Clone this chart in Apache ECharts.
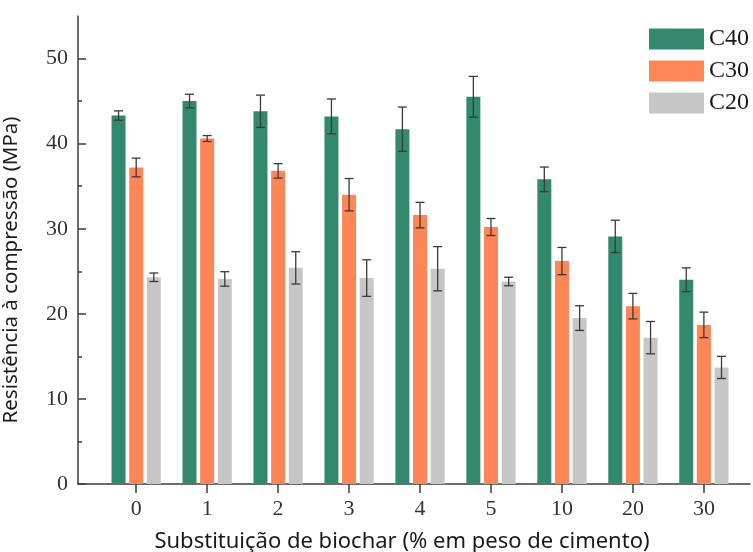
<!DOCTYPE html>
<html>
<head>
<meta charset="utf-8">
<script src="https://cdn.jsdelivr.net/npm/echarts@6/dist/echarts.min.js"></script>
<style>html,body{margin:0;padding:0;background:#fff}#c{width:753px;height:552px}</style>
</head>
<body>
<div id="c"></div>
<script>
const categories = ['0', '1', '2', '3', '4', '5', '10', '20', '30'];
const seriesNames = ['C40', 'C30', 'C20'];
const c40 = [43.3, 45.0, 43.8, 43.2, 41.7, 45.5, 35.8, 29.1, 24.0];
const c40Err = [0.55, 0.8, 1.9, 2.05, 2.6, 2.4, 1.45, 1.9, 1.4];
const c30 = [37.2, 40.6, 36.8, 34.0, 31.6, 30.2, 26.2, 20.9, 18.7];
const c30Err = [1.1, 0.35, 0.85, 1.9, 1.5, 1.0, 1.6, 1.5, 1.5];
const c20 = [24.3, 24.1, 25.4, 24.2, 25.3, 23.8, 19.5, 17.2, 13.7];
const c20Err = [0.5, 0.85, 1.9, 2.15, 2.6, 0.5, 1.45, 1.9, 1.3];
const yTickValues = [0, 10, 20, 30, 40, 50];
const yMinorTickValues = [5, 15, 25, 35, 45];

const colors = ['#33896d', '#fe8556', '#c6c6c6'];
const values = [c40, c30, c20];
const errors = [c40Err, c30Err, c20Err];
const BAR_W = 14, GAP = 0.26;
const step = BAR_W * (1 + GAP);
const serif = '"Liberation Serif", "DejaVu Serif", serif';
const sans = '"Noto Sans", "Open Sans", sans-serif';
const idx = categories.map((_, i) => i);

const series = [];
values.forEach((vals, s) => {
  series.push({
    name: seriesNames[s], type: 'bar', barWidth: BAR_W, barGap: (GAP * 100) + '%',
    itemStyle: { color: colors[s] },
    data: vals.map((v, i) => [i, v]),
    z: 2
  });
});
values.forEach((vals, s) => {
  series.push({
    type: 'custom', z: 5, silent: true,
    data: vals.map((v, i) => [i, v, errors[s][i]]),
    renderItem: function (params, api) {
      const i = api.value(0), v = api.value(1), e = api.value(2);
      const hi = api.coord([i, v + e]);
      const lo = api.coord([i, v - e]);
      const x = hi[0] + (s - 1) * step;
      const cap = 4.5;
      const st = { stroke: '#3a3a3a', lineWidth: 1.3 };
      return {
        type: 'group', children: [
          { type: 'line', shape: { x1: x, y1: hi[1], x2: x, y2: lo[1] }, style: st },
          { type: 'line', shape: { x1: x - cap, y1: hi[1], x2: x + cap, y2: hi[1] }, style: st },
          { type: 'line', shape: { x1: x - cap, y1: lo[1], x2: x + cap, y2: lo[1] }, style: st }
        ]
      };
    }
  });
});

const chart = echarts.init(document.getElementById('c'));
chart.setOption({
  animation: false,
  backgroundColor: '#ffffff',
  grid: { left: 78, right: 3, top: 16, bottom: 68, containLabel: false, outerBoundsMode: 'none' },
  legend: {
    data: seriesNames, orient: 'vertical', left: 644, top: 22,
    icon: 'rect', itemWidth: 55, itemHeight: 21, itemGap: 8,
    textStyle: { fontFamily: serif, fontSize: 24, color: '#1a1a1a' }
  },
  xAxis: {
    type: 'value', min: -0.82, max: 8.65,
    name: 'Substituição de biochar (% em peso de cimento)',
    nameLocation: 'middle', nameGap: 47,
    nameTextStyle: { fontFamily: sans, fontSize: 22, color: '#1a1a1a', padding: [0, 24, 0, 0] },
    axisLine: { show: true, onZero: false, lineStyle: { color: '#3c3c3c', width: 1.5 } },
    axisTick: { show: true, inside: false, length: 9, customValues: idx, lineStyle: { color: '#3c3c3c', width: 1.5 } },
    axisLabel: { customValues: idx, margin: 14, fontFamily: serif, fontSize: 22, color: '#333',
      formatter: v => categories[Math.round(v)] },
    splitLine: { show: false }
  },
  yAxis: [{
    type: 'value', min: 0, max: 55,
    name: 'Resistência à compressão (MPa)',
    nameLocation: 'middle', nameGap: 56,
    nameTextStyle: { fontFamily: sans, fontSize: 20.5, color: '#1a1a1a', padding: [0, 40, 0, 0] },
    axisLine: { show: true, onZero: false, lineStyle: { color: '#3c3c3c', width: 1.5 } },
    axisTick: { show: true, inside: true, length: 8, customValues: yTickValues, lineStyle: { color: '#3c3c3c', width: 1.5 } },
    axisLabel: { customValues: yTickValues, margin: 10, fontFamily: serif, fontSize: 22, color: '#333' },
    splitLine: { show: false }
  }, {
    type: 'value', min: 0, max: 55, position: 'left',
    axisLine: { show: false, onZero: false },
    axisTick: { show: true, inside: true, length: 4, customValues: yMinorTickValues, lineStyle: { color: '#3c3c3c', width: 1.5 } },
    axisLabel: { show: false },
    splitLine: { show: false }
  }],
  series: series
});
</script>
</body>
</html>
